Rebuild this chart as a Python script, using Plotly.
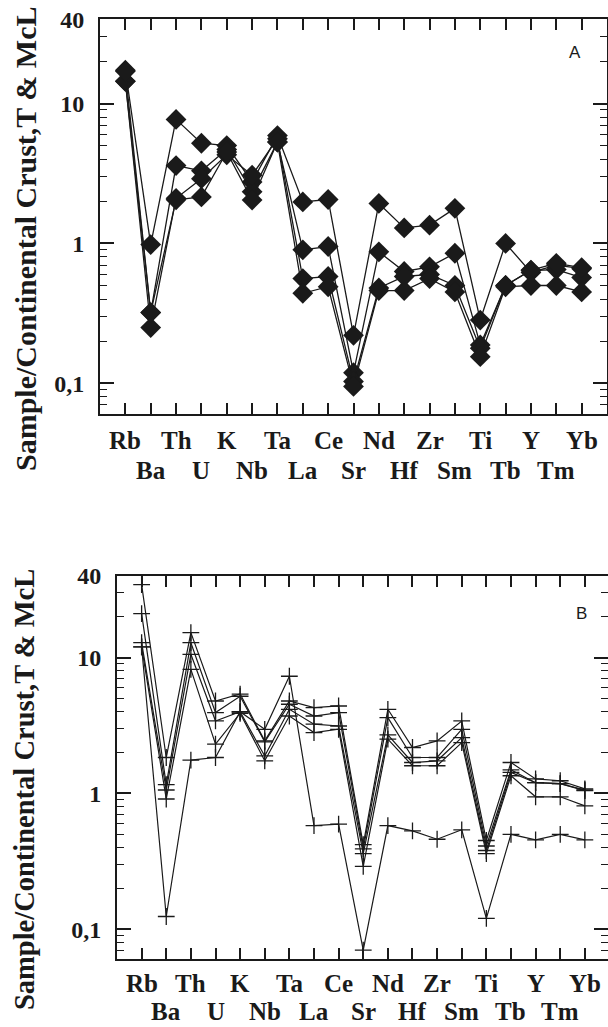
import numpy as np
import plotly.graph_objects as go

# ---------------- data ----------------
elements = ["Rb", "Ba", "Th", "U", "K", "Nb", "Ta", "La", "Ce", "Sr",
            "Nd", "Hf", "Zr", "Sm", "Ti", "Tb", "Y", "Tm", "Yb"]

# Panel A (diamonds)
a1 = [17.3, 0.98, 7.7, 5.2, 5.0, 2.75, 5.9, 1.98, 2.06, 0.22, 1.93, 1.29, 1.35, 1.78, 0.283, 1.00, 0.62, 0.70, 0.66]
a2 = [14.4, 0.32, 3.6, 3.3, 4.7, 2.34, 5.3, 0.90, 0.95, 0.119, 0.87, 0.63, 0.68, 0.85, 0.188, 0.50, 0.64, 0.65, 0.57]
a3 = [14.4, 0.25, 2.1, 2.9, 4.3, 3.07, 5.6, 0.56, 0.58, 0.103, 0.48, 0.58, 0.60, 0.50, 0.178, 0.50, 0.645, 0.72, 0.67]
a4 = [17.0, 0.32, 2.05, 2.15, 4.5, 2.04, 5.3, 0.44, 0.49, 0.095, 0.46, 0.46, 0.56, 0.45, 0.155, 0.49, 0.50, 0.50, 0.45]
series_a = [a1, a2, a3, a4]

# Panel B (crosses)
b1 = [34.6, 1.84, 15.3, 4.8, 5.4, 2.44, 4.8, 4.29, 4.41, 0.42, 4.17, 2.18, 2.44, 3.42, 0.45, 1.69, 1.28, 1.24, 1.08]
b2 = [21.1, 1.16, 12.9, 3.94, 5.2, 2.40, 4.54, 3.72, 3.94, 0.39, 3.62, 1.84, 1.84, 2.97, 0.41, 1.49, 1.20, 1.18, 1.06]
b3 = [12.9, 1.06, 10.6, 3.42, 4.0, 1.89, 4.17, 3.24, 3.14, 0.36, 2.70, 1.69, 1.74, 2.58, 0.38, 1.43, 1.20, 1.18, 1.05]
b4 = [12.0, 0.91, 8.2, 2.31, 3.9, 1.74, 3.72, 2.81, 2.97, 0.29, 2.51, 1.60, 1.60, 2.37, 0.36, 1.35, 0.945, 0.945, 0.81]
b5 = [12.0, 0.124, 1.76, 1.84, 4.0, 2.97, 7.3, 0.58, 0.595, 0.07, 0.58, 0.53, 0.46, 0.54, 0.12, 0.50, 0.455, 0.50, 0.455]
series_b = [b1, b2, b3, b4, b5]

ytick_vals = [0.1, 1, 10, 40]
ytick_text = ["0,1", "1", "10", "40"]
ytitle = "Sample/Continental Crust,T & McL"
panel_labels = ["A", "B"]

# ---------------- layout geometry ----------------
W, H = 608, 1027
def py(y):
    return (H - y) / H
def px(x):
    return min(x / W, 1.0)

minor_vals = [m * 10.0 ** e for e in (-2, -1, 0, 1) for m in range(2, 10)]
minor_vals = [v for v in minor_vals if 0.06 <= v < 40]

serif = "Liberation Serif"
ink = "#1a1a1a"

fig = go.Figure()

for s in series_a:
    fig.add_trace(go.Scatter(
        x=elements, y=s, mode="lines+markers", xaxis="x", yaxis="y",
        line=dict(color=ink, width=1.3),
        marker=dict(symbol="diamond", size=16, color=ink),
        showlegend=False, cliponaxis=False))

for s in series_b:
    fig.add_trace(go.Scatter(
        x=elements, y=s, mode="lines+markers", xaxis="x2", yaxis="y2",
        line=dict(color=ink, width=1.2),
        marker=dict(symbol="cross-thin", size=12, line=dict(color=ink, width=1.3)),
        showlegend=False, cliponaxis=False))

def xaxis_cfg(domain, anchor, rng):
    return dict(
        domain=domain, anchor=anchor, type="category",
        categoryorder="array", categoryarray=elements,
        range=rng, showticklabels=False,
        ticks="inside", ticklen=11, tickwidth=1.5, tickcolor=ink,
        showline=True, linecolor=ink, linewidth=2, mirror="allticks",
        showgrid=False, zeroline=False, automargin=False)

def yaxis_cfg(domain, anchor):
    return dict(
        domain=domain, anchor=anchor, type="log",
        range=[np.log10(0.06), np.log10(40)],
        tickmode="array", tickvals=ytick_vals, ticktext=ytick_text,
        ticks="inside", ticklen=14, tickwidth=1.5, tickcolor=ink,
        minor=dict(tickmode="array", tickvals=minor_vals, ticks="inside",
                   ticklen=7, tickwidth=1.3, tickcolor=ink, showgrid=False),
        ticklabelstandoff=9,
        tickfont=dict(family=serif, size=24, color=ink, weight="bold"),
        showline=True, linecolor=ink, linewidth=2, mirror="allticks",
        showgrid=False, zeroline=False, automargin=False)

fig.update_layout(
    xaxis=xaxis_cfg([px(100), px(607)], "y", [-1, 19]),
    yaxis=yaxis_cfg([py(414.3), py(19.3)], "x"),
    xaxis2=xaxis_cfg([px(117), 1.0], "y2", [-1.0, 18.94]),
    yaxis2=yaxis_cfg([py(959.3), py(576)], "x2"),
)

annotations = []
# x tick labels in two staggered rows
rows = {"A": (440, 471), "B": (983, 1011)}
for xa, key in (("x", "A"), ("x2", "B")):
    r1, r2 = rows[key]
    for i, el in enumerate(elements):
        yy = r1 if i % 2 == 0 else r2
        annotations.append(dict(
            x=el, y=py(yy), xref=xa, yref="paper", text=el, showarrow=False,
            xanchor="center", yanchor="middle",
            font=dict(family=serif, size=25, color=ink, weight="bold")))

# y-axis titles
for yc, fs in ((239, 30), (790, 28.5)):
    annotations.append(dict(
        x=px(25), y=py(yc), xref="paper", yref="paper", text=ytitle,
        textangle=-90, showarrow=False, xanchor="center", yanchor="middle",
        font=dict(family=serif, size=fs, color=ink, weight="bold")))

# panel letters
for lab, (lx, ly) in zip(panel_labels, ((575, 52), (581, 613))):
    annotations.append(dict(
        x=px(lx), y=py(ly), xref="paper", yref="paper", text=lab,
        showarrow=False, xanchor="center", yanchor="middle",
        font=dict(family="Liberation Sans", size=17, color=ink)))

fig.update_layout(
    width=W, height=H, margin=dict(l=0, r=0, t=0, b=0),
    paper_bgcolor="white", plot_bgcolor="white",
    annotations=annotations, showlegend=False)

fig.write_html("out.html", config={"displayModeBar": False},
               post_script="document.body.style.margin='0px';document.body.style.overflow='hidden';")
